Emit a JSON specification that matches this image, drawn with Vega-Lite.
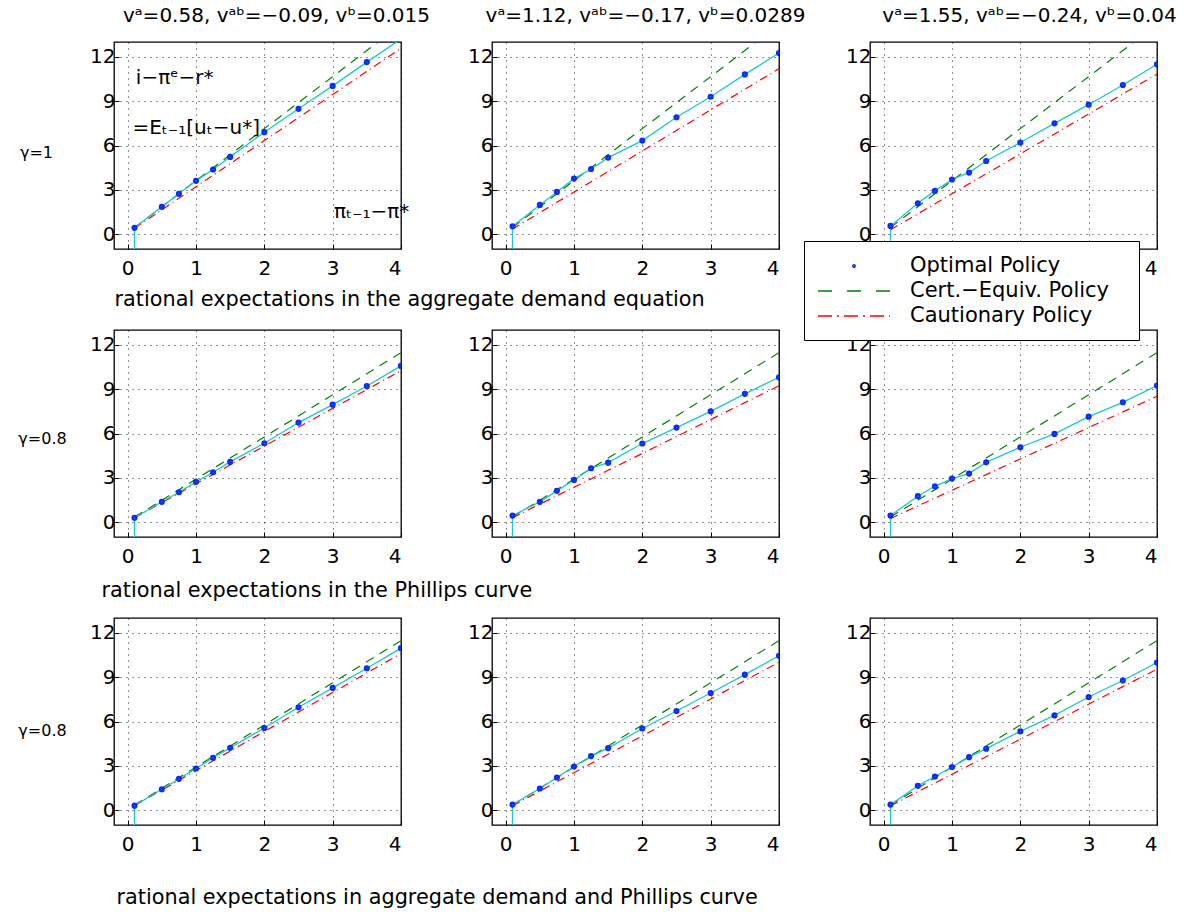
{
"$schema":"https://vega.github.io/schema/vega-lite/v6.json",
"background":"white",
"padding":{"left":17,"top":5,"right":5,"bottom":5},
"datasets":{"d":[
{"p":1,"x":0.1,"o":-5},
{"p":1,"x":0.1,"o":0.43,"c":0.45,"r":0.40},{"p":1,"x":0.5,"o":1.85,"c":1.86,"r":1.65},{"p":1,"x":0.75,"o":2.73,"c":2.74,"r":2.43},{"p":1,"x":1,"o":3.61,"c":3.62,"r":3.21},{"p":1,"x":1.25,"o":4.38,"c":4.50,"r":3.99},{"p":1,"x":1.5,"o":5.23,"c":5.38,"r":4.77},{"p":1,"x":2,"o":6.90,"c":7.14,"r":6.33},{"p":1,"x":2.5,"o":8.48,"c":8.90,"r":7.89},{"p":1,"x":3,"o":10.03,"c":10.66,"r":9.45},{"p":1,"x":3.5,"o":11.64,"c":12.42,"r":11.01},{"p":1,"x":4,"o":13.2,"c":14.18,"r":12.57},
{"p":2,"x":0.1,"o":-5},
{"p":2,"x":0.1,"o":0.54,"c":0.45,"r":0.35},{"p":2,"x":0.5,"o":1.98,"c":1.86,"r":1.46},{"p":2,"x":0.75,"o":2.86,"c":2.74,"r":2.16},{"p":2,"x":1,"o":3.76,"c":3.62,"r":2.85},{"p":2,"x":1.25,"o":4.41,"c":4.50,"r":3.55},{"p":2,"x":1.5,"o":5.18,"c":5.38,"r":4.24},{"p":2,"x":2,"o":6.33,"c":7.14,"r":5.63},{"p":2,"x":2.5,"o":7.91,"c":8.90,"r":7.02},{"p":2,"x":3,"o":9.30,"c":10.66,"r":8.41},{"p":2,"x":3.5,"o":10.81,"c":12.42,"r":9.80},{"p":2,"x":4,"o":12.25,"c":14.18,"r":11.19},
{"p":3,"x":0.1,"o":-5},
{"p":3,"x":0.1,"o":0.56,"c":0.45,"r":0.30},{"p":3,"x":0.5,"o":2.09,"c":1.86,"r":1.38},{"p":3,"x":0.75,"o":2.93,"c":2.74,"r":2.06},{"p":3,"x":1,"o":3.70,"c":3.62,"r":2.73},{"p":3,"x":1.25,"o":4.17,"c":4.50,"r":3.41},{"p":3,"x":1.5,"o":4.95,"c":5.38,"r":4.08},{"p":3,"x":2,"o":6.20,"c":7.14,"r":5.43},{"p":3,"x":2.5,"o":7.50,"c":8.90,"r":6.78},{"p":3,"x":3,"o":8.76,"c":10.66,"r":8.13},{"p":3,"x":3.5,"o":10.09,"c":12.42,"r":9.48},{"p":3,"x":4,"o":11.49,"c":14.18,"r":10.83},
{"p":4,"x":0.1,"o":-5},
{"p":4,"x":0.1,"o":0.30,"c":0.35,"r":0.30},{"p":4,"x":0.5,"o":1.38,"c":1.49,"r":1.32},{"p":4,"x":0.75,"o":2.03,"c":2.20,"r":1.96},{"p":4,"x":1,"o":2.73,"c":2.92,"r":2.60},{"p":4,"x":1.25,"o":3.38,"c":3.63,"r":3.23},{"p":4,"x":1.5,"o":4.08,"c":4.34,"r":3.87},{"p":4,"x":2,"o":5.34,"c":5.77,"r":5.15},{"p":4,"x":2.5,"o":6.74,"c":7.19,"r":6.42},{"p":4,"x":3,"o":7.95,"c":8.62,"r":7.70},{"p":4,"x":3.5,"o":9.21,"c":10.04,"r":8.97},{"p":4,"x":4,"o":10.57,"c":11.47,"r":10.25},
{"p":5,"x":0.1,"o":-5},
{"p":5,"x":0.1,"o":0.45,"c":0.35,"r":0.30},{"p":5,"x":0.5,"o":1.38,"c":1.49,"r":1.22},{"p":5,"x":0.75,"o":2.12,"c":2.20,"r":1.79},{"p":5,"x":1,"o":2.86,"c":2.92,"r":2.36},{"p":5,"x":1.25,"o":3.65,"c":3.63,"r":2.93},{"p":5,"x":1.5,"o":4.03,"c":4.34,"r":3.51},{"p":5,"x":2,"o":5.32,"c":5.77,"r":4.65},{"p":5,"x":2.5,"o":6.40,"c":7.19,"r":5.80},{"p":5,"x":3,"o":7.50,"c":8.62,"r":6.94},{"p":5,"x":3.5,"o":8.68,"c":10.04,"r":8.09},{"p":5,"x":4,"o":9.80,"c":11.47,"r":9.23},
{"p":6,"x":0.1,"o":-5},
{"p":6,"x":0.1,"o":0.45,"c":0.35,"r":0.25},{"p":6,"x":0.5,"o":1.76,"c":1.49,"r":1.10},{"p":6,"x":0.75,"o":2.43,"c":2.20,"r":1.63},{"p":6,"x":1,"o":2.95,"c":2.92,"r":2.16},{"p":6,"x":1.25,"o":3.29,"c":3.63,"r":2.69},{"p":6,"x":1.5,"o":4.05,"c":4.34,"r":3.22},{"p":6,"x":2,"o":5.07,"c":5.77,"r":4.28},{"p":6,"x":2.5,"o":5.97,"c":7.19,"r":5.34},{"p":6,"x":3,"o":7.14,"c":8.62,"r":6.40},{"p":6,"x":3.5,"o":8.11,"c":10.04,"r":7.46},{"p":6,"x":4,"o":9.24,"c":11.47,"r":8.52},
{"p":7,"x":0.1,"o":-5},
{"p":7,"x":0.1,"o":0.31,"c":0.35,"r":0.30},{"p":7,"x":0.5,"o":1.42,"c":1.49,"r":1.36},{"p":7,"x":0.75,"o":2.12,"c":2.20,"r":2.02},{"p":7,"x":1,"o":2.82,"c":2.92,"r":2.68},{"p":7,"x":1.25,"o":3.55,"c":3.63,"r":3.34},{"p":7,"x":1.5,"o":4.22,"c":4.34,"r":4.00},{"p":7,"x":2,"o":5.56,"c":5.77,"r":5.32},{"p":7,"x":2.5,"o":6.96,"c":7.19,"r":6.64},{"p":7,"x":3,"o":8.27,"c":8.62,"r":7.96},{"p":7,"x":3.5,"o":9.60,"c":10.04,"r":9.28},{"p":7,"x":4,"o":10.96,"c":11.47,"r":10.60},
{"p":8,"x":0.1,"o":-5},
{"p":8,"x":0.1,"o":0.38,"c":0.35,"r":0.30},{"p":8,"x":0.5,"o":1.47,"c":1.49,"r":1.30},{"p":8,"x":0.75,"o":2.21,"c":2.20,"r":1.92},{"p":8,"x":1,"o":2.96,"c":2.92,"r":2.54},{"p":8,"x":1.25,"o":3.66,"c":3.63,"r":3.16},{"p":8,"x":1.5,"o":4.20,"c":4.34,"r":3.79},{"p":8,"x":2,"o":5.53,"c":5.77,"r":5.03},{"p":8,"x":2.5,"o":6.71,"c":7.19,"r":6.28},{"p":8,"x":3,"o":7.93,"c":8.62,"r":7.52},{"p":8,"x":3.5,"o":9.17,"c":10.04,"r":8.77},{"p":8,"x":4,"o":10.44,"c":11.47,"r":10.01},
{"p":9,"x":0.1,"o":-5},
{"p":9,"x":0.1,"o":0.38,"c":0.35,"r":0.30},{"p":9,"x":0.5,"o":1.65,"c":1.49,"r":1.25},{"p":9,"x":0.75,"o":2.28,"c":2.20,"r":1.84},{"p":9,"x":1,"o":2.92,"c":2.92,"r":2.43},{"p":9,"x":1.25,"o":3.59,"c":3.63,"r":3.03},{"p":9,"x":1.5,"o":4.16,"c":4.34,"r":3.62},{"p":9,"x":2,"o":5.33,"c":5.77,"r":4.80},{"p":9,"x":2.5,"o":6.41,"c":7.19,"r":5.99},{"p":9,"x":3,"o":7.66,"c":8.62,"r":7.17},{"p":9,"x":3.5,"o":8.77,"c":10.04,"r":8.36},{"p":9,"x":4,"o":9.99,"c":11.47,"r":9.54}
]},
"columns":3,
"spacing":{"row":81,"column":91},
"bounds":"flush",
"concat":[
{"width":287,"height":207,
 "title":{"text":"vᵃ=0.58, vᵃᵇ=−0.09, vᵇ=0.015","dx":19},
 "data":{"name":"d"},
 "transform":[{"filter":"datum.p==1"},{"fold":["o","c","r"],"as":["s","v"]}],
 "encoding":{
  "x":{"field":"x","type":"quantitative","scale":{"domain":[-0.2,4],"zero":false,"nice":false},"axis":{"values":[0,1,2,3,4],"title":"rational expectations in the aggregate demand equation","titleX":0,"titleY":50,"titleAlign":"left","titleBaseline":"middle","titleLimit":900}},
  "y":{"field":"v","type":"quantitative","scale":{"domain":[-1,13],"zero":false,"nice":false},"axis":{"values":[0,3,6,9,12],"title":"γ=1","titleAngle":0,"titleX":-78,"titleY":110,"titleAlign":"center","titleBaseline":"middle","titleFontSize":16}}
 },
 "layer":[
  {"data":{"values":[{}]},"mark":{"type":"rule","color":"#cc22cc","strokeWidth":1.8},"encoding":{"x":{"datum":-0.2},"x2":{"datum":4},"y":{"datum":0}}},
  {"transform":[{"filter":"datum.s=='c'"}],"mark":{"type":"line","color":"#008000","strokeDash":[9,7],"strokeWidth":1.2,"clip":true}},
  {"transform":[{"filter":"datum.s=='r'"}],"mark":{"type":"line","color":"#ff0000","strokeDash":[8,4,1,4],"strokeWidth":1.2,"clip":true}},
  {"transform":[{"filter":"datum.s=='o'"}],"mark":{"type":"line","color":"#1fc6cf","strokeWidth":1.3,"clip":true}},
  {"transform":[{"filter":"datum.s=='o' && datum.v>-1"}],"mark":{"type":"point","filled":false,"opacity":1,"shape":"M-0.12,0A0.12,0.12,0,1,1,0.12,0A0.12,0.12,0,1,1,-0.12,0Z","size":484,"strokeWidth":3.5,"color":"#0a2cff","clip":true}},
  {"data":{"values":[{"x":0.12,"v":10.55,"t":"i−πᵉ−r*"},{"x":0.07,"v":7.2,"t":"=Eₜ₋₁[uₜ−u*]"},{"x":3.02,"v":1.5,"t":"πₜ₋₁−π*"}]},"mark":{"type":"text","align":"left","baseline":"middle","fontSize":20,"font":"DejaVu Sans","color":"black"},"encoding":{"text":{"field":"t"}}}
 ]},
{"width":287,"height":207,
 "title":{"text":"vᵃ=1.12, vᵃᵇ=−0.17, vᵇ=0.0289","dx":10},
 "data":{"name":"d"},
 "transform":[{"filter":"datum.p==2"},{"fold":["o","c","r"],"as":["s","v"]}],
 "encoding":{
  "x":{"field":"x","type":"quantitative","scale":{"domain":[-0.2,4],"zero":false,"nice":false},"axis":{"values":[0,1,2,3,4],"title":null}},
  "y":{"field":"v","type":"quantitative","scale":{"domain":[-1,13],"zero":false,"nice":false},"axis":{"values":[0,3,6,9,12],"title":null}}
 },
 "layer":[
  {"data":{"values":[{}]},"mark":{"type":"rule","color":"#cc22cc","strokeWidth":1.8},"encoding":{"x":{"datum":-0.2},"x2":{"datum":4},"y":{"datum":0}}},
  {"transform":[{"filter":"datum.s=='c'"}],"mark":{"type":"line","color":"#008000","strokeDash":[9,7],"strokeWidth":1.2,"clip":true}},
  {"transform":[{"filter":"datum.s=='r'"}],"mark":{"type":"line","color":"#ff0000","strokeDash":[8,4,1,4],"strokeWidth":1.2,"clip":true}},
  {"transform":[{"filter":"datum.s=='o'"}],"mark":{"type":"line","color":"#1fc6cf","strokeWidth":1.3,"clip":true}},
  {"transform":[{"filter":"datum.s=='o' && datum.v>-1"}],"mark":{"type":"point","filled":false,"opacity":1,"shape":"M-0.12,0A0.12,0.12,0,1,1,0.12,0A0.12,0.12,0,1,1,-0.12,0Z","size":484,"strokeWidth":3.5,"color":"#0a2cff","clip":true}}
 ]},
{"width":287,"height":207,
 "title":{"text":"vᵃ=1.55, vᵃᵇ=−0.24, vᵇ=0.04","dx":16},
 "data":{"name":"d"},
 "transform":[{"filter":"datum.p==3"},{"fold":["o","c","r"],"as":["s","v"]}],
 "encoding":{
  "x":{"field":"x","type":"quantitative","scale":{"domain":[-0.2,4],"zero":false,"nice":false},"axis":{"values":[0,1,2,3,4],"title":null}},
  "y":{"field":"v","type":"quantitative","scale":{"domain":[-1,13],"zero":false,"nice":false},"axis":{"values":[0,3,6,9,12],"title":null}}
 },
 "layer":[
  {"data":{"values":[{}]},"mark":{"type":"rule","color":"#cc22cc","strokeWidth":1.8},"encoding":{"x":{"datum":-0.2},"x2":{"datum":4},"y":{"datum":0}}},
  {"transform":[{"filter":"datum.s=='c'"}],"mark":{"type":"line","color":"#008000","strokeDash":[9,7],"strokeWidth":1.2,"clip":true}},
  {"transform":[{"filter":"datum.s=='r'"}],"mark":{"type":"line","color":"#ff0000","strokeDash":[8,4,1,4],"strokeWidth":1.2,"clip":true}},
  {"transform":[{"filter":"datum.s=='o'"}],"mark":{"type":"line","color":"#1fc6cf","strokeWidth":1.3,"clip":true}},
  {"transform":[{"filter":"datum.s=='o' && datum.v>-1"}],"mark":{"type":"point","filled":false,"opacity":1,"size":484,"strokeWidth":3.5,"clip":true},
   "encoding":{
    "color":{"field":"s","type":"nominal","scale":{"domain":["o","c","r"],"range":["#0a2cff","#008000","#ff0000"]},"legend":{"title":null,"orient":"none","legendX":690,"legendY":199,"strokeColor":"black","fillColor":"white","padding":14,"symbolSize":400,"symbolOffset":25,"symbolStrokeWidth":1.5,"symbolOpacity":1,"labelFont":"DejaVu Sans","labelFontSize":21,"labelColor":"black","labelOffset":45,"rowPadding":4,"labelLimit":600,"labelExpr":"(datum.value=='o'?'Optimal Policy':datum.value=='c'?'Cert.−Equiv. Policy':'Cautionary Policy')+'\u2800'"}},
    "shape":{"field":"s","type":"nominal","scale":{"domain":["o","c","r"],"range":["M-0.12,0A0.12,0.12,0,1,1,0.12,0A0.12,0.12,0,1,1,-0.12,0Z","M-3.6,0H-2.2M-0.7,0H0.7M2.2,0H3.6","M-3.6,0H-2.2M-1.7,0H-1.5M-1,0H0.4M0.9,0H1.1M1.6,0H3M3.5,0H3.6"]},"legend":{"title":null,"orient":"none","legendX":690,"legendY":199,"strokeColor":"black","fillColor":"white","padding":14,"symbolSize":400,"symbolOffset":25,"symbolStrokeWidth":1.5,"symbolOpacity":1,"labelFont":"DejaVu Sans","labelFontSize":21,"labelColor":"black","labelOffset":45,"rowPadding":4,"labelLimit":600,"labelExpr":"(datum.value=='o'?'Optimal Policy':datum.value=='c'?'Cert.−Equiv. Policy':'Cautionary Policy')+'\u2800'"}}
   }}
 ]},
{"width":287,"height":207,
 "data":{"name":"d"},
 "transform":[{"filter":"datum.p==4"},{"fold":["o","c","r"],"as":["s","v"]}],
 "encoding":{
  "x":{"field":"x","type":"quantitative","scale":{"domain":[-0.2,4],"zero":false,"nice":false},"axis":{"values":[0,1,2,3,4],"title":"rational expectations in the Phillips curve","titleX":-13,"titleY":53,"titleAlign":"left","titleBaseline":"middle","titleLimit":900}},
  "y":{"field":"v","type":"quantitative","scale":{"domain":[-1,13],"zero":false,"nice":false},"axis":{"values":[0,3,6,9,12],"title":"γ=0.8","titleAngle":0,"titleX":-72,"titleY":108,"titleAlign":"center","titleBaseline":"middle","titleFontSize":16}}
 },
 "layer":[
  {"data":{"values":[{}]},"mark":{"type":"rule","color":"#cc22cc","strokeWidth":1.8},"encoding":{"x":{"datum":-0.2},"x2":{"datum":4},"y":{"datum":0}}},
  {"transform":[{"filter":"datum.s=='c'"}],"mark":{"type":"line","color":"#008000","strokeDash":[9,7],"strokeWidth":1.2,"clip":true}},
  {"transform":[{"filter":"datum.s=='r'"}],"mark":{"type":"line","color":"#ff0000","strokeDash":[8,4,1,4],"strokeWidth":1.2,"clip":true}},
  {"transform":[{"filter":"datum.s=='o'"}],"mark":{"type":"line","color":"#1fc6cf","strokeWidth":1.3,"clip":true}},
  {"transform":[{"filter":"datum.s=='o' && datum.v>-1"}],"mark":{"type":"point","filled":false,"opacity":1,"shape":"M-0.12,0A0.12,0.12,0,1,1,0.12,0A0.12,0.12,0,1,1,-0.12,0Z","size":484,"strokeWidth":3.5,"color":"#0a2cff","clip":true}}
 ]},
{"width":287,"height":207,
 "data":{"name":"d"},
 "transform":[{"filter":"datum.p==5"},{"fold":["o","c","r"],"as":["s","v"]}],
 "encoding":{
  "x":{"field":"x","type":"quantitative","scale":{"domain":[-0.2,4],"zero":false,"nice":false},"axis":{"values":[0,1,2,3,4],"title":null}},
  "y":{"field":"v","type":"quantitative","scale":{"domain":[-1,13],"zero":false,"nice":false},"axis":{"values":[0,3,6,9,12],"title":null}}
 },
 "layer":[
  {"data":{"values":[{}]},"mark":{"type":"rule","color":"#cc22cc","strokeWidth":1.8},"encoding":{"x":{"datum":-0.2},"x2":{"datum":4},"y":{"datum":0}}},
  {"transform":[{"filter":"datum.s=='c'"}],"mark":{"type":"line","color":"#008000","strokeDash":[9,7],"strokeWidth":1.2,"clip":true}},
  {"transform":[{"filter":"datum.s=='r'"}],"mark":{"type":"line","color":"#ff0000","strokeDash":[8,4,1,4],"strokeWidth":1.2,"clip":true}},
  {"transform":[{"filter":"datum.s=='o'"}],"mark":{"type":"line","color":"#1fc6cf","strokeWidth":1.3,"clip":true}},
  {"transform":[{"filter":"datum.s=='o' && datum.v>-1"}],"mark":{"type":"point","filled":false,"opacity":1,"shape":"M-0.12,0A0.12,0.12,0,1,1,0.12,0A0.12,0.12,0,1,1,-0.12,0Z","size":484,"strokeWidth":3.5,"color":"#0a2cff","clip":true}}
 ]},
{"width":287,"height":207,
 "data":{"name":"d"},
 "transform":[{"filter":"datum.p==6"},{"fold":["o","c","r"],"as":["s","v"]}],
 "encoding":{
  "x":{"field":"x","type":"quantitative","scale":{"domain":[-0.2,4],"zero":false,"nice":false},"axis":{"values":[0,1,2,3,4],"title":null}},
  "y":{"field":"v","type":"quantitative","scale":{"domain":[-1,13],"zero":false,"nice":false},"axis":{"values":[0,3,6,9,12],"title":null}}
 },
 "layer":[
  {"data":{"values":[{}]},"mark":{"type":"rule","color":"#cc22cc","strokeWidth":1.8},"encoding":{"x":{"datum":-0.2},"x2":{"datum":4},"y":{"datum":0}}},
  {"transform":[{"filter":"datum.s=='c'"}],"mark":{"type":"line","color":"#008000","strokeDash":[9,7],"strokeWidth":1.2,"clip":true}},
  {"transform":[{"filter":"datum.s=='r'"}],"mark":{"type":"line","color":"#ff0000","strokeDash":[8,4,1,4],"strokeWidth":1.2,"clip":true}},
  {"transform":[{"filter":"datum.s=='o'"}],"mark":{"type":"line","color":"#1fc6cf","strokeWidth":1.3,"clip":true}},
  {"transform":[{"filter":"datum.s=='o' && datum.v>-1"}],"mark":{"type":"point","filled":false,"opacity":1,"shape":"M-0.12,0A0.12,0.12,0,1,1,0.12,0A0.12,0.12,0,1,1,-0.12,0Z","size":484,"strokeWidth":3.5,"color":"#0a2cff","clip":true}}
 ]},
{"width":287,"height":207,
 "data":{"name":"d"},
 "transform":[{"filter":"datum.p==7"},{"fold":["o","c","r"],"as":["s","v"]}],
 "encoding":{
  "x":{"field":"x","type":"quantitative","scale":{"domain":[-0.2,4],"zero":false,"nice":false},"axis":{"values":[0,1,2,3,4],"title":"rational expectations in aggregate demand and Phillips curve","titleX":2,"titleY":72,"titleAlign":"left","titleBaseline":"middle","titleLimit":900}},
  "y":{"field":"v","type":"quantitative","scale":{"domain":[-1,13],"zero":false,"nice":false},"axis":{"values":[0,3,6,9,12],"title":"γ=0.8","titleAngle":0,"titleX":-72,"titleY":112,"titleAlign":"center","titleBaseline":"middle","titleFontSize":16}}
 },
 "layer":[
  {"data":{"values":[{}]},"mark":{"type":"rule","color":"#cc22cc","strokeWidth":1.8},"encoding":{"x":{"datum":-0.2},"x2":{"datum":4},"y":{"datum":0}}},
  {"transform":[{"filter":"datum.s=='c'"}],"mark":{"type":"line","color":"#008000","strokeDash":[9,7],"strokeWidth":1.2,"clip":true}},
  {"transform":[{"filter":"datum.s=='r'"}],"mark":{"type":"line","color":"#ff0000","strokeDash":[8,4,1,4],"strokeWidth":1.2,"clip":true}},
  {"transform":[{"filter":"datum.s=='o'"}],"mark":{"type":"line","color":"#1fc6cf","strokeWidth":1.3,"clip":true}},
  {"transform":[{"filter":"datum.s=='o' && datum.v>-1"}],"mark":{"type":"point","filled":false,"opacity":1,"shape":"M-0.12,0A0.12,0.12,0,1,1,0.12,0A0.12,0.12,0,1,1,-0.12,0Z","size":484,"strokeWidth":3.5,"color":"#0a2cff","clip":true}}
 ]},
{"width":287,"height":207,
 "data":{"name":"d"},
 "transform":[{"filter":"datum.p==8"},{"fold":["o","c","r"],"as":["s","v"]}],
 "encoding":{
  "x":{"field":"x","type":"quantitative","scale":{"domain":[-0.2,4],"zero":false,"nice":false},"axis":{"values":[0,1,2,3,4],"title":null}},
  "y":{"field":"v","type":"quantitative","scale":{"domain":[-1,13],"zero":false,"nice":false},"axis":{"values":[0,3,6,9,12],"title":null}}
 },
 "layer":[
  {"data":{"values":[{}]},"mark":{"type":"rule","color":"#cc22cc","strokeWidth":1.8},"encoding":{"x":{"datum":-0.2},"x2":{"datum":4},"y":{"datum":0}}},
  {"transform":[{"filter":"datum.s=='c'"}],"mark":{"type":"line","color":"#008000","strokeDash":[9,7],"strokeWidth":1.2,"clip":true}},
  {"transform":[{"filter":"datum.s=='r'"}],"mark":{"type":"line","color":"#ff0000","strokeDash":[8,4,1,4],"strokeWidth":1.2,"clip":true}},
  {"transform":[{"filter":"datum.s=='o'"}],"mark":{"type":"line","color":"#1fc6cf","strokeWidth":1.3,"clip":true}},
  {"transform":[{"filter":"datum.s=='o' && datum.v>-1"}],"mark":{"type":"point","filled":false,"opacity":1,"shape":"M-0.12,0A0.12,0.12,0,1,1,0.12,0A0.12,0.12,0,1,1,-0.12,0Z","size":484,"strokeWidth":3.5,"color":"#0a2cff","clip":true}}
 ]},
{"width":287,"height":207,
 "data":{"name":"d"},
 "transform":[{"filter":"datum.p==9"},{"fold":["o","c","r"],"as":["s","v"]}],
 "encoding":{
  "x":{"field":"x","type":"quantitative","scale":{"domain":[-0.2,4],"zero":false,"nice":false},"axis":{"values":[0,1,2,3,4],"title":null}},
  "y":{"field":"v","type":"quantitative","scale":{"domain":[-1,13],"zero":false,"nice":false},"axis":{"values":[0,3,6,9,12],"title":null}}
 },
 "layer":[
  {"data":{"values":[{}]},"mark":{"type":"rule","color":"#cc22cc","strokeWidth":1.8},"encoding":{"x":{"datum":-0.2},"x2":{"datum":4},"y":{"datum":0}}},
  {"transform":[{"filter":"datum.s=='c'"}],"mark":{"type":"line","color":"#008000","strokeDash":[9,7],"strokeWidth":1.2,"clip":true}},
  {"transform":[{"filter":"datum.s=='r'"}],"mark":{"type":"line","color":"#ff0000","strokeDash":[8,4,1,4],"strokeWidth":1.2,"clip":true}},
  {"transform":[{"filter":"datum.s=='o'"}],"mark":{"type":"line","color":"#1fc6cf","strokeWidth":1.3,"clip":true}},
  {"transform":[{"filter":"datum.s=='o' && datum.v>-1"}],"mark":{"type":"point","filled":false,"opacity":1,"shape":"M-0.12,0A0.12,0.12,0,1,1,0.12,0A0.12,0.12,0,1,1,-0.12,0Z","size":484,"strokeWidth":3.5,"color":"#0a2cff","clip":true}}
 ]}
],
"config":{
 "font":"DejaVu Sans",
 "view":{"stroke":"black","strokeWidth":1.3},
 "axis":{"grid":true,"gridColor":"#000","gridDash":[1,5],"gridOpacity":0.85,"gridWidth":1,"domain":false,"ticks":true,"tickColor":"#000","tickSize":-5,"tickWidth":1,"labelFont":"DejaVu Sans","labelFontSize":20,"labelColor":"#000","titleFont":"DejaVu Sans","titleFontSize":20.8,"titleFontWeight":"normal","titleColor":"#000"},
 "axisX":{"labelPadding":14},
 "axisY":{"labelPadding":4},
 "title":{"font":"DejaVu Sans","fontSize":20,"fontWeight":"normal","color":"#000","offset":16}
}
}
